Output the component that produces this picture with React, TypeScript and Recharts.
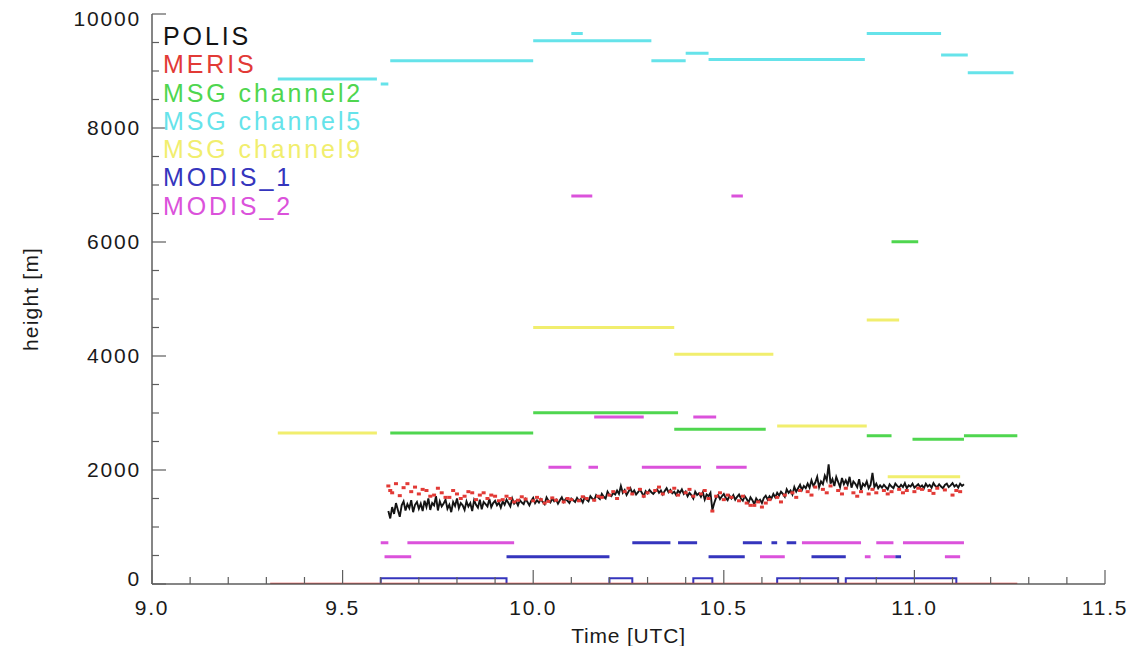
import React from 'react';
import { ComposedChart, Line, Scatter, XAxis, YAxis } from 'recharts';

// ---- axis ticks ----
const X_TICK_LABELS = [9.0, 9.5, 10.0, 10.5, 11.0, 11.5];
const Y_TICK_LABELS = [0, 2000, 4000, 6000, 8000, 10000];
const X_MINOR_STEP = 0.1;
const Y_MINOR_STEP = 500;

// ---- series names and colours ----
const SERIES = [
  { name: 'POLIS', color: '#141414' },
  { name: 'MERIS', color: '#e23a36' },
  { name: 'MSG channel2', color: '#4fd64f' },
  { name: 'MSG channel5', color: '#66e3ea' },
  { name: 'MSG channel9', color: '#f1ee6e' },
  { name: 'MODIS_1', color: '#3535bd' },
  { name: 'MODIS_2', color: '#db52db' },
];

// ---- POLIS cloud-top height, sampled every 0.005 h from 9.62 UTC ----
const POLIS_START = 9.62;
const POLIS_STEP = 0.005;
const POLIS_HEIGHT = [
  1280, 1150, 1350, 1230, 1420, 1300, 1180, 1380, 1450, 1290, 1400, 1330, 1470, 1260, 1390, 1440, 1320, 1410, 1280, 1460,
  1350, 1500, 1300, 1420, 1380, 1540, 1290, 1450, 1360, 1410, 1480, 1320, 1390, 1260, 1440, 1370, 1500, 1330, 1420, 1380,
  1300, 1450, 1360, 1420, 1280, 1470, 1390, 1340, 1480, 1310, 1440, 1400, 1360, 1490, 1350, 1420, 1460, 1380, 1430, 1340,
  1450, 1390, 1480, 1420, 1360, 1500, 1410, 1450, 1380, 1470, 1430, 1400, 1490, 1440, 1380, 1460, 1510, 1420, 1470, 1430,
  1490, 1440, 1400, 1520, 1460, 1430, 1500, 1450, 1480, 1410, 1470, 1520, 1440, 1490, 1460, 1420, 1500, 1470, 1440, 1510,
  1460, 1490, 1430, 1520, 1480, 1450, 1540, 1500, 1470, 1560, 1520, 1490, 1580, 1530, 1500, 1620, 1560, 1540, 1600, 1570,
  1640, 1580, 1720, 1600, 1650, 1560, 1620, 1680, 1590, 1640, 1570, 1610, 1660, 1600, 1540, 1630, 1590, 1650, 1610, 1580,
  1620, 1660, 1600, 1640, 1570, 1630, 1680, 1610, 1650, 1590, 1620, 1560, 1640, 1600, 1660, 1580, 1620, 1540, 1600, 1560,
  1500, 1620, 1560, 1590, 1530, 1610, 1480, 1570, 1540, 1600, 1300, 1420, 1520, 1560, 1490, 1540, 1580, 1510, 1470, 1550,
  1500, 1560, 1480, 1530, 1570, 1500, 1460, 1540, 1490, 1430, 1520, 1470, 1400, 1500, 1450, 1480, 1420, 1510, 1550, 1480,
  1540, 1500, 1580, 1520, 1600, 1550, 1620, 1580, 1530, 1660, 1600, 1640, 1570, 1700, 1620, 1680, 1740, 1650, 1720, 1680,
  1760, 1690, 1820, 1720, 1780, 1880, 1700, 1800, 1750, 1900, 1820, 2100, 1760, 1840, 1720, 1880, 1790, 1700, 1860, 1750,
  1820, 1740, 1880, 1690, 1800, 1760, 1700, 1840, 1650, 1760, 1720, 1800, 1680, 1740, 1950, 1700, 1760, 1680, 1730, 1690,
  1740, 1700, 1660, 1750, 1710, 1680, 1760, 1720, 1690, 1740, 1700, 1770, 1680, 1730, 1710, 1760, 1690, 1720, 1750, 1700,
  1730, 1680, 1760, 1710, 1740, 1690, 1770, 1720, 1700, 1750, 1710, 1680, 1740, 1760, 1700, 1730, 1770, 1710, 1740, 1690,
  1760, 1720, 1750,
];

// ---- MERIS retrievals [time, height] ----
const MERIS_POINTS = [
  [9.62, 1720], [9.625, 1640], [9.63, 1600], [9.64, 1760], [9.65, 1550], [9.66, 1690], [9.67, 1760],
  [9.68, 1620], [9.69, 1700], [9.7, 1580], [9.71, 1660], [9.72, 1640], [9.73, 1540], [9.74, 1560],
  [9.75, 1680], [9.76, 1600], [9.77, 1520], [9.78, 1520], [9.79, 1640], [9.8, 1580], [9.81, 1500],
  [9.82, 1540], [9.83, 1620], [9.84, 1600], [9.85, 1480], [9.86, 1560], [9.87, 1600], [9.88, 1500],
  [9.89, 1560], [9.9, 1540], [9.91, 1460], [9.92, 1480], [9.93, 1540], [9.94, 1500], [9.95, 1440],
  [9.96, 1470], [9.97, 1530], [9.98, 1490], [10.0, 1460], [10.01, 1520], [10.02, 1480], [10.03, 1420],
  [10.04, 1450], [10.05, 1510], [10.06, 1470], [10.08, 1440], [10.09, 1500], [10.1, 1480], [10.12, 1460],
  [10.13, 1530], [10.14, 1500], [10.16, 1470], [10.17, 1540], [10.18, 1520], [10.2, 1560], [10.21, 1620],
  [10.22, 1500], [10.24, 1620], [10.25, 1680], [10.26, 1580], [10.28, 1660], [10.29, 1540], [10.3, 1600],
  [10.32, 1640], [10.33, 1700], [10.34, 1580], [10.36, 1620], [10.37, 1680], [10.38, 1560], [10.4, 1600],
  [10.41, 1660], [10.42, 1540], [10.44, 1580], [10.45, 1640], [10.46, 1500], [10.47, 1280], [10.48, 1540],
  [10.49, 1600], [10.5, 1480], [10.51, 1560], [10.52, 1520], [10.54, 1460], [10.55, 1540], [10.56, 1420],
  [10.57, 1380], [10.58, 1380], [10.59, 1440], [10.6, 1350], [10.61, 1420], [10.62, 1480], [10.64, 1520],
  [10.65, 1440], [10.66, 1560], [10.68, 1600], [10.69, 1520], [10.7, 1640], [10.72, 1620], [10.73, 1560],
  [10.74, 1700], [10.76, 1660], [10.77, 1600], [10.78, 1720], [10.8, 1640], [10.81, 1580], [10.82, 1680],
  [10.84, 1600], [10.85, 1540], [10.86, 1620], [10.88, 1580], [10.89, 1660], [10.9, 1600], [10.92, 1640],
  [10.93, 1580], [10.94, 1620], [10.96, 1660], [10.97, 1600], [10.98, 1640], [11.0, 1620], [11.01, 1680],
  [11.02, 1660], [11.04, 1640], [11.05, 1590], [11.06, 1680], [11.08, 1650], [11.1, 1560], [11.11, 1640],
  [11.12, 1620],
];
// MERIS surface-level retrievals [start, end, height]
const MERIS_SEGMENTS = [[9.31, 11.27, 0]];

// ---- constant-height retrievals [start time, end time, height] ----
const MSG2_SEGMENTS = [
  [9.625, 10.0, 2650], [10.0, 10.38, 3005], [10.37, 10.61, 2715],
  [10.875, 10.94, 2600], [10.995, 11.13, 2540], [11.13, 11.27, 2600],
  [10.94, 11.01, 6005],
];
const MSG5_SEGMENTS = [
  [9.33, 9.59, 8860], [9.6, 9.62, 8770], [9.625, 10.0, 9180], [10.0, 10.31, 9530],
  [10.1, 10.13, 9660], [10.31, 10.4, 9180], [10.4, 10.46, 9310], [10.46, 10.87, 9200],
  [10.875, 11.07, 9660], [11.07, 11.14, 9280], [11.14, 11.26, 8970],
];
const MSG9_SEGMENTS = [
  [9.33, 9.59, 2650], [10.0, 10.37, 4500], [10.37, 10.63, 4030], [10.875, 10.96, 4630],
  [10.64, 10.875, 2770], [10.93, 11.12, 1880],
];
const MODIS1_SEGMENTS = [
  [10.26, 10.36, 725], [10.38, 10.43, 725], [10.55, 10.6, 725], [10.625, 10.64, 725],
  [10.665, 10.69, 725], [9.93, 10.2, 480], [10.46, 10.555, 480], [10.73, 10.82, 480],
  [10.95, 10.965, 480],
];
// MODIS_1 near-surface retrievals, drawn as boxes from the ground
const MODIS1_BOXES = [
  [9.6, 9.93, 100], [10.2, 10.26, 100], [10.42, 10.47, 100], [10.64, 10.8, 100], [10.82, 11.11, 100],
];
const MODIS2_SEGMENTS = [
  [10.1, 10.155, 6805], [10.52, 10.55, 6805], [10.16, 10.29, 2930], [10.42, 10.48, 2930],
  [10.04, 10.1, 2050], [10.145, 10.17, 2050], [10.285, 10.44, 2050], [10.48, 10.56, 2050],
  [9.6, 9.62, 725], [9.67, 9.95, 725], [10.705, 10.86, 725], [10.9, 10.945, 725], [10.97, 11.13, 725],
  [9.61, 9.68, 480], [10.595, 10.66, 480], [10.87, 10.885, 480], [10.92, 10.95, 480], [11.08, 11.12, 480],
];

type Pt = { t: number; h: number | null };

const segmentsToPoints = (segs: number[][]): Pt[] => {
  const out: Pt[] = [];
  segs.forEach(([t1, t2, h]) => {
    out.push({ t: t1, h }, { t: t2, h }, { t: t2, h: null });
  });
  return out;
};

const boxesToPoints = (boxes: number[][]): Pt[] => {
  const out: Pt[] = [];
  boxes.forEach(([t1, t2, h]) => {
    out.push({ t: t1, h: 0 }, { t: t1, h }, { t: t2, h }, { t: t2, h: 0 }, { t: t2, h: null });
  });
  return out;
};

const polisData: Pt[] = POLIS_HEIGHT.map((h, i) => ({ t: POLIS_START + i * POLIS_STEP, h }));
const merisData: Pt[] = MERIS_POINTS.map(([t, h]) => ({ t, h }));

const colorOf = (name: string) => SERIES.find((s) => s.name === name)!.color;

const xTicks = Array.from(
  { length: Math.round((X_TICK_LABELS[X_TICK_LABELS.length - 1] - X_TICK_LABELS[0]) / X_MINOR_STEP) + 1 },
  (_, i) => X_TICK_LABELS[0] + i * X_MINOR_STEP
);
const yTicks = Array.from(
  { length: Math.round((Y_TICK_LABELS[Y_TICK_LABELS.length - 1] - Y_TICK_LABELS[0]) / Y_MINOR_STEP) + 1 },
  (_, i) => Y_TICK_LABELS[0] + i * Y_MINOR_STEP
);

const isLabelled = (v: number, labels: number[]) => labels.some((l) => Math.abs(l - v) < 1e-6);

const AXIS_COLOR = '#5e5e5e';
const MAJOR_LEN = 14;
const MINOR_LEN = 7;
const FONT = "'Liberation Sans', Arial, Helvetica, sans-serif";
const TICK_FONT = { fontFamily: FONT, fontSize: 21, fill: '#1a1a1a', letterSpacing: 1.8 };

const BottomTick = (props: any) => {
  const { x, y, payload } = props;
  const major = isLabelled(payload.value, X_TICK_LABELS);
  return (
    <g>
      <line x1={x} y1={y} x2={x} y2={y - (major ? MAJOR_LEN : MINOR_LEN)} stroke={AXIS_COLOR} strokeWidth={1.2} />
      {major && (
        <text x={x} y={y + 31} textAnchor="middle" style={TICK_FONT}>
          {payload.value.toFixed(1)}
        </text>
      )}
    </g>
  );
};

const TopTick = (props: any) => {
  const { x, y, payload } = props;
  const major = isLabelled(payload.value, X_TICK_LABELS);
  return <line x1={x} y1={y} x2={x} y2={y + (major ? MAJOR_LEN : MINOR_LEN)} stroke={AXIS_COLOR} strokeWidth={1.2} />;
};

const LeftTick = (props: any) => {
  const { x, y, payload } = props;
  const v = payload.value;
  const major = isLabelled(v, Y_TICK_LABELS);
  // end labels sit slightly inside the axis range
  const shift = v === Y_TICK_LABELS[0] ? -5 : v === Y_TICK_LABELS[Y_TICK_LABELS.length - 1] ? 5 : 0;
  return (
    <g>
      <line x1={x} y1={y} x2={x + (major ? MAJOR_LEN : MINOR_LEN)} y2={y} stroke={AXIS_COLOR} strokeWidth={1.2} />
      {major && (
        <text x={x - 11} y={y + 7 + shift} textAnchor="end" style={TICK_FONT}>
          {String(v)}
        </text>
      )}
    </g>
  );
};

const RightTick = (props: any) => {
  const { x, y, payload } = props;
  const major = isLabelled(payload.value, Y_TICK_LABELS);
  return <line x1={x} y1={y} x2={x - (major ? MAJOR_LEN : MINOR_LEN)} y2={y} stroke={AXIS_COLOR} strokeWidth={1.2} />;
};

const XTitle = (props: any) => {
  const vb = props.viewBox;
  return (
    <text x={vb.x + vb.width / 2} y={vb.y + 59} textAnchor="middle" style={{ ...TICK_FONT, letterSpacing: 0.8 }}>
      Time [UTC]
    </text>
  );
};

const YTitle = (props: any) => {
  const vb = props.viewBox;
  const cx = vb.x + 22;
  const cy = vb.y + vb.height / 2;
  return (
    <text
      x={cx}
      y={cy}
      transform={`rotate(-90, ${cx}, ${cy})`}
      textAnchor="middle"
      dominantBaseline="central"
      style={{ ...TICK_FONT, letterSpacing: 1.2 }}
    >
      height [m]
    </text>
  );
};

const MerisDot = (props: any) => {
  const { cx, cy } = props;
  if (cx == null || cy == null) return <g />;
  return <rect x={cx - 2} y={cy - 1.5} width={4} height={3} fill={colorOf('MERIS')} />;
};

const segLine = (key: string, data: Pt[], color: string, width = 3) => (
  <Line
    key={key}
    data={data}
    dataKey="h"
    xAxisId="x"
    yAxisId="y"
    type="linear"
    stroke={color}
    strokeWidth={width}
    dot={false}
    activeDot={false}
    connectNulls={false}
    isAnimationActive={false}
    legendType="none"
  />
);

export default function App() {
  return (
    <div style={{ position: 'relative', width: 1128, height: 638 }}>
      <style>{'.recharts-surface { overflow: visible; }'}</style>
      <ComposedChart width={1128} height={638} margin={{ top: 6, right: 31, bottom: 0, left: 0 }}>
        <XAxis
          xAxisId="x"
          dataKey="t"
          type="number"
          domain={[9, 11.5]}
          ticks={xTicks}
          interval={0}
          tickSize={0}
          tickMargin={0}
          tickLine={false}
          tick={BottomTick}
          height={62}
          axisLine={{ stroke: AXIS_COLOR, strokeWidth: 1.5 }}
          label={XTitle}
          allowDataOverflow
        />
        <XAxis
          xAxisId="top"
          dataKey="t"
          type="number"
          orientation="top"
          domain={[9, 11.5]}
          ticks={xTicks}
          interval={0}
          tickSize={0}
          tickMargin={0}
          tickLine={false}
          tick={TopTick}
          height={0}
          axisLine={{ stroke: AXIS_COLOR, strokeWidth: 1.5 }}
          allowDataOverflow
        />
        <YAxis
          yAxisId="y"
          dataKey="h"
          type="number"
          domain={[0, 10000]}
          ticks={yTicks}
          interval={0}
          tickSize={0}
          tickMargin={0}
          tickLine={false}
          tick={LeftTick}
          width={144}
          axisLine={{ stroke: AXIS_COLOR, strokeWidth: 1.5 }}
          label={YTitle}
          allowDataOverflow
        />
        <YAxis
          yAxisId="right"
          dataKey="h"
          type="number"
          orientation="right"
          domain={[0, 10000]}
          ticks={yTicks}
          interval={0}
          tickSize={0}
          tickMargin={0}
          tickLine={false}
          tick={RightTick}
          width={0}
          axisLine={{ stroke: AXIS_COLOR, strokeWidth: 1.5 }}
          allowDataOverflow
        />

        {segLine('msg5', segmentsToPoints(MSG5_SEGMENTS), colorOf('MSG channel5'))}
        {segLine('msg9', segmentsToPoints(MSG9_SEGMENTS), colorOf('MSG channel9'))}
        {segLine('msg2', segmentsToPoints(MSG2_SEGMENTS), colorOf('MSG channel2'))}
        {segLine('modis2', segmentsToPoints(MODIS2_SEGMENTS), colorOf('MODIS_2'))}
        {segLine('modis1', segmentsToPoints(MODIS1_SEGMENTS), colorOf('MODIS_1'))}
        {segLine('modis1box', boxesToPoints(MODIS1_BOXES), colorOf('MODIS_1'), 2)}
        {segLine('merisGround', segmentsToPoints(MERIS_SEGMENTS), colorOf('MERIS'), 2.5)}

        <Scatter
          data={merisData}
          dataKey="h"
          xAxisId="x"
          yAxisId="y"
          shape={MerisDot}
          isAnimationActive={false}
          legendType="none"
        />
        <Line
          data={polisData}
          dataKey="h"
          xAxisId="x"
          yAxisId="y"
          type="linear"
          stroke={colorOf('POLIS')}
          strokeWidth={1.9}
          dot={false}
          activeDot={false}
          isAnimationActive={false}
          legendType="none"
        />
      </ComposedChart>

      <div
        style={{
          position: 'absolute',
          left: 155,
          top: 14,
          fontFamily: FONT,
          fontSize: 25,
          lineHeight: '28.3px',
          letterSpacing: 2.9,
          pointerEvents: 'none',
        }}
      >
        {SERIES.map((s) => (
          <div key={s.name} style={{ color: s.color, whiteSpace: 'nowrap' }}>
            {s.name}
          </div>
        ))}
      </div>
    </div>
  );
}
